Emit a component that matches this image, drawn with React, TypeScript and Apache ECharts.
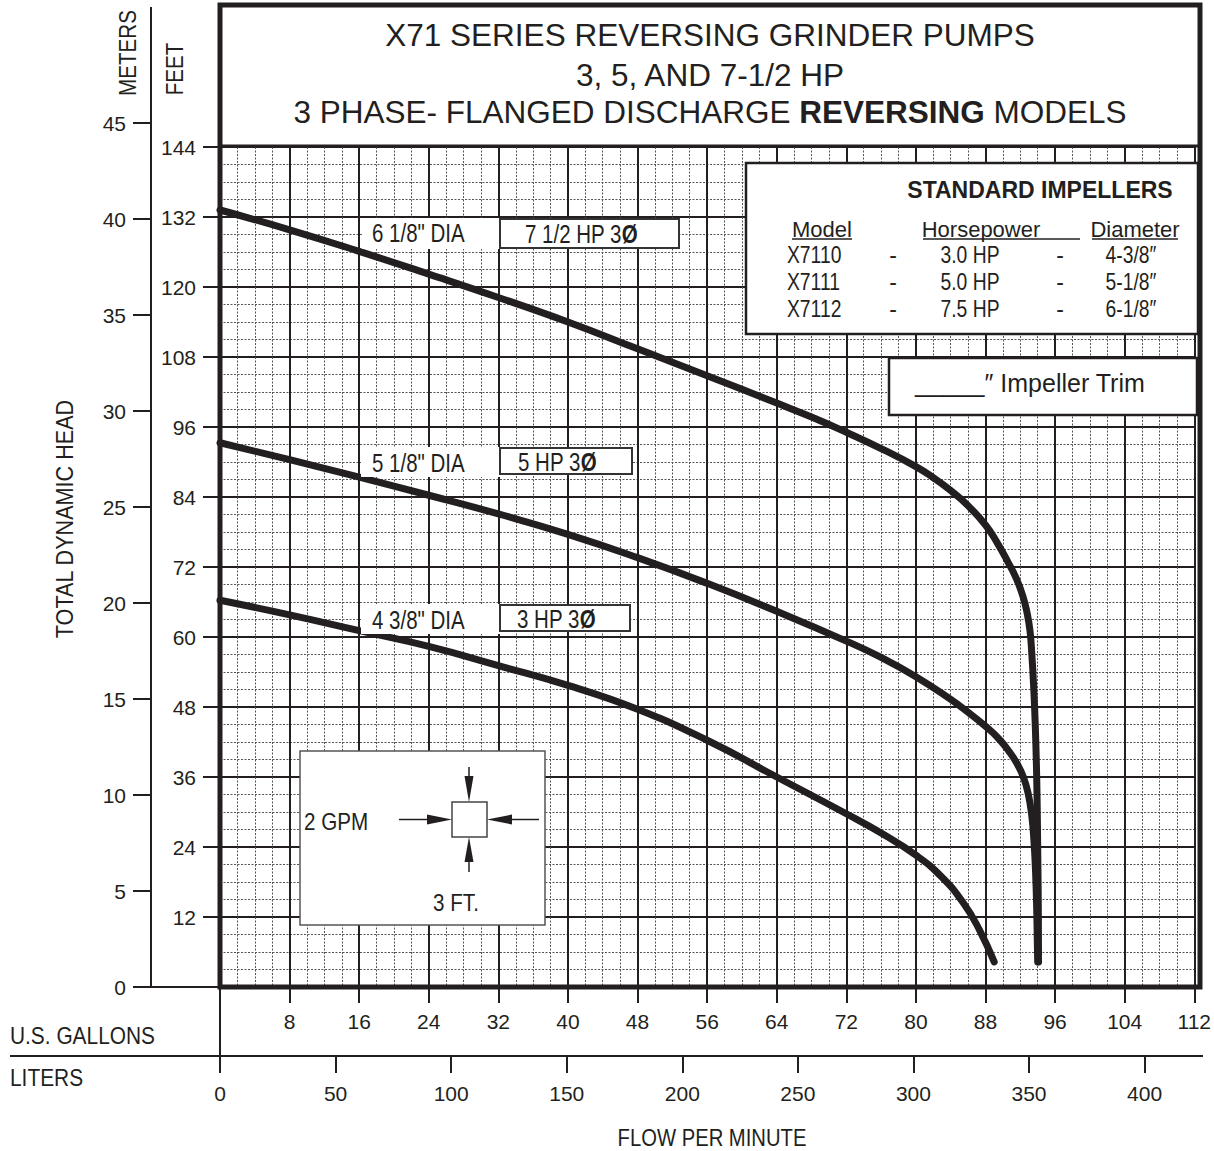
import React, { useEffect, useRef } from "react";
import * as echarts from "echarts";

// ---------- data ----------
const gallonTicks = [0, 8, 16, 24, 32, 40, 48, 56, 64, 72, 80, 88, 96, 104, 112];
const literTicks = [0, 50, 100, 150, 200, 250, 300, 350, 400];
const feetTicks = [0, 12, 24, 36, 48, 60, 72, 84, 96, 108, 120, 132, 144];
const meterTicks = [0, 5, 10, 15, 20, 25, 30, 35, 40, 45];

// [GPM, feet]
const curve75hp: number[][] = [
  [0, 133.2], [8, 129.8], [16, 126.1], [24, 122.2], [32, 118.2], [40, 114.0],
  [48, 109.4], [56, 104.8], [64, 100.1], [68, 97.7], [72, 95.1], [76, 92.3],
  [80, 89.2], [82, 87.3], [84, 85.1], [86, 82.5], [88, 79.2], [89.4, 76.0],
  [90.6, 72.8], [91.55, 70.0], [92.3, 67.0], [92.8, 64.0], [93.12, 61.0],
  [93.33, 57.0], [93.52, 52.0], [93.72, 45.0], [93.9, 35.0], [94.0, 24.0],
  [94.07, 14.0], [94.1, 4.3],
];
const curve5hp: number[][] = [
  [0, 93.3], [8, 90.4], [16, 87.4], [24, 84.3], [32, 81.1], [40, 77.6],
  [48, 73.6], [56, 69.2], [64, 64.4], [72, 59.3], [76, 56.5], [80, 53.2],
  [84, 49.3], [86, 47.1], [88, 44.7], [89.5, 42.6], [90.7, 40.4], [91.7, 38.1],
  [92.4, 35.8], [92.9, 33.2], [93.3, 29.6], [93.55, 25.5], [93.75, 20.0],
  [93.9, 12.5], [94.0, 4.3],
];
const curve3hp: number[][] = [
  [0, 66.3], [8, 63.8], [16, 61.1], [24, 58.4], [32, 55.1], [40, 51.7],
  [48, 47.6], [56, 42.3], [64, 36.0], [72, 29.7], [76, 26.4], [80, 22.6],
  [83, 18.8], [85.5, 14.3], [87.3, 9.8], [89.0, 4.3],
];

const titleLines = [
  "X71 SERIES REVERSING GRINDER PUMPS",
  "3, 5, AND 7-1/2 HP",
];
const tableHeaders = ["Model", "Horsepower", "Diameter"];
const tableModels = ["X7110", "X7111", "X7112"];
const tableHp = ["3.0 HP", "5.0 HP", "7.5 HP"];
const tableDia = ["4-3/8\u2033", "5-1/8\u2033", "6-1/8\u2033"];

const LITERS_PER_GALLON = 3.78541;

// ---------- styling ----------
const INK = "#231f20";
const REG = "'Liberation Sans', Arial, sans-serif";

function txt(text: string, x: number, y: number, size: number, opts: any = {}) {
  return {
    type: "text",
    x,
    y,
    z: 110,
    rotation: opts.rotation || 0,
    scaleX: opts.sx || 1,
    style: {
      text,
      fill: INK,
      fontSize: size,
      fontFamily: REG,
      fontWeight: opts.weight || "normal",
      textAlign: opts.align || "left",
      textVerticalAlign: "middle",
      rich: opts.rich,
    },
  };
}
function line(x1: number, y1: number, x2: number, y2: number, w: number, color = INK) {
  return { type: "line", z: 105, shape: { x1, y1, x2, y2 }, style: { stroke: color, lineWidth: w } };
}
function rect(x: number, y: number, w: number, h: number, stroke: string | null, lw: number, fill = "#fff") {
  return {
    type: "rect",
    z: 100,
    shape: { x, y, width: w, height: h },
    style: { fill, stroke: stroke || undefined, lineWidth: stroke ? lw : 0 },
  };
}
function tri(points: number[][]) {
  return { type: "polygon", z: 106, shape: { points }, style: { fill: INK } };
}

export default function App() {
  const ref = useRef<HTMLDivElement>(null);

  useEffect(() => {
    if (!ref.current) return;
    const chart = echarts.init(ref.current, undefined, { renderer: "svg" });

    const phiRich = (size: number) => ({
      b: { fontSize: size, fontFamily: REG, fontWeight: "bold", fill: INK },
    });

    const curveSeries = (name: string, data: number[][]) => ({
      name,
      type: "line",
      xAxisIndex: 0,
      yAxisIndex: 0,
      data,
      smooth: 0.5,
      symbol: "none",
      showSymbol: false,
      z: 20,
      lineStyle: { color: INK, width: 7, cap: "round", join: "round" },
    });

    const labelFont = { color: INK, fontSize: 21, fontFamily: REG };

    const option: any = {
      animation: false,
      backgroundColor: "#fff",
      grid: [
        { left: 220, top: 147, width: 980, height: 840, show: false },
        { left: 151, top: 123, width: 1, height: 864, show: false },
        { left: 220, top: 1000, width: 980, height: 56, show: false },
      ],
      xAxis: [
        {
          gridIndex: 0,
          type: "value",
          min: gallonTicks[0],
          max: gallonTicks[gallonTicks.length - 1],
          interval: 8,
          axisLine: { show: false },
          axisTick: { show: true, length: 16, lineStyle: { color: INK, width: 2 } },
          axisLabel: {
            ...labelFont,
            margin: 24,
            formatter: (v: number) => (v === 0 ? "" : String(v)),
          },
          splitLine: { show: true, lineStyle: { color: INK, width: 2 } },
          minorTick: { show: false, splitNumber: 4 },
          minorSplitLine: { show: true, lineStyle: { color: "#555", width: 1, type: [2, 1.5] } },
        },
        { gridIndex: 1, type: "value", show: false, min: 0, max: 1 },
        {
          gridIndex: 2,
          type: "value",
          position: "bottom",
          min: 0,
          max: gallonTicks[gallonTicks.length - 1] * LITERS_PER_GALLON,
          interval: 50,
          axisLine: { show: true, lineStyle: { color: INK, width: 2 } },
          axisTick: {
            show: true,
            length: 17,
            customValues: literTicks,
            lineStyle: { color: INK, width: 2 },
          },
          axisLabel: { ...labelFont, margin: 27, customValues: literTicks },
          splitLine: { show: false },
        },
      ],
      yAxis: [
        {
          gridIndex: 0,
          type: "value",
          min: feetTicks[0],
          max: feetTicks[feetTicks.length - 1],
          interval: 12,
          axisLine: { show: false },
          axisTick: { show: true, length: 17, lineStyle: { color: INK, width: 2 } },
          axisLabel: {
            ...labelFont,
            margin: 24,
            formatter: (v: number) => (v === 0 ? "" : String(v)),
          },
          splitLine: { show: true, lineStyle: { color: INK, width: 2 } },
          minorTick: { show: false, splitNumber: 4 },
          minorSplitLine: { show: true, lineStyle: { color: "#555", width: 1, type: [2, 1.5] } },
        },
        {
          gridIndex: 1,
          type: "value",
          min: meterTicks[0],
          max: meterTicks[meterTicks.length - 1],
          interval: 5,
          axisLine: { show: true, lineStyle: { color: INK, width: 2 } },
          axisTick: { show: true, length: 18, lineStyle: { color: INK, width: 2 } },
          axisLabel: { ...labelFont, margin: 25 },
          splitLine: { show: false },
        },
        { gridIndex: 2, type: "value", show: false, min: 0, max: 1 },
      ],
      series: [
        curveSeries("6 1/8\" DIA", curve75hp),
        curveSeries("5 1/8\" DIA", curve5hp),
        curveSeries("4 3/8\" DIA", curve3hp),
      ],
      graphic: {
        elements: [
          // frame
          { type: "rect", z: 120, shape: { x: 220, y: 5, width: 980, height: 982 }, style: { fill: "none", stroke: INK, lineWidth: 5 } },
          line(220, 146, 1200, 146, 3),
          // axis extensions
          line(151, 7, 151, 123, 2),
          line(151, 987, 220, 987, 2),
          line(220, 987, 220, 1073, 2),
          line(10, 1056, 220, 1056, 2),
          line(1200, 1056, 1203, 1056, 2),
          // title
          txt(titleLines[0], 710, 35, 31.5, { align: "center" }),
          txt(titleLines[1], 710, 75, 31.5, { align: "center" }),
          txt("3 PHASE- FLANGED DISCHARGE {b|REVERSING} MODELS", 710, 112, 31.5, {
            align: "center",
            rich: { b: { fontSize: 31.5, fontFamily: REG, fontWeight: "bold", fill: INK } },
          }),
          // axis titles
          txt("METERS", 128, 53, 24, { rotation: Math.PI / 2, align: "center", sx: 0.86 }),
          txt("FEET", 175, 69, 24, { rotation: Math.PI / 2, align: "center", sx: 0.86 }),
          txt("TOTAL DYNAMIC HEAD", 65, 519, 24, { rotation: Math.PI / 2, align: "center", sx: 0.9 }),
          txt("U.S. GALLONS", 10, 1036, 24, { sx: 0.87 }),
          txt("LITERS", 10, 1078, 24, { sx: 0.87 }),
          txt("FLOW PER MINUTE", 712, 1138, 23, { align: "center", sx: 0.88 }),
          // standard impellers box
          rect(746, 163, 452, 171, INK, 2.5),
          txt("STANDARD IMPELLERS", 1040, 190, 23, { weight: "bold", align: "center" }),
          txt(tableHeaders[0], 822, 229, 22, { align: "center" }),
          txt(tableHeaders[1], 981, 229, 22, { align: "center" }),
          txt(tableHeaders[2], 1135, 229, 22, { align: "center" }),
          line(792, 239, 852, 239, 1.5),
          line(923, 239, 1080, 239, 1.5),
          line(1092, 239, 1178, 239, 1.5),
          ...tableModels.flatMap((m, i) => {
            const y = 255 + i * 26.8;
            return [
              txt(m, 787, y, 23, { sx: 0.84 }),
              txt("-", 893, y, 23, { align: "center" }),
              txt(tableHp[i], 970, y, 23, { align: "center", sx: 0.84 }),
              txt("-", 1060, y, 23, { align: "center" }),
              txt(tableDia[i], 1131, y, 23, { align: "center", sx: 0.84 }),
            ];
          }),
          // impeller trim box
          rect(889, 358, 308, 57, INK, 2.5),
          txt("_____\u2033 Impeller Trim", 915, 383, 25),
          // curve labels
          rect(362, 218, 138, 31, null, 0),
          txt("6 1/8\" DIA", 372, 233, 25, { sx: 0.82 }),
          rect(500, 219, 179, 29, "#333", 2),
          txt("7 1/2 HP 3{b|\u00d8}", 525, 234, 25, { sx: 0.82, rich: phiRich(25) }),
          rect(361, 447, 139, 30, null, 0),
          txt("5 1/8\" DIA", 372, 463, 25, { sx: 0.82 }),
          rect(500, 448, 132, 26, "#333", 2),
          txt("5 HP 3{b|\u00d8}", 518, 462, 25, { sx: 0.82, rich: phiRich(25) }),
          rect(361, 604, 139, 30, null, 0),
          txt("4 3/8\" DIA", 372, 620, 25, { sx: 0.82 }),
          rect(500, 605, 130, 26, "#333", 2),
          txt("3 HP 3{b|\u00d8}", 517, 619, 25, { sx: 0.82, rich: phiRich(25) }),
          // inset
          rect(300, 751, 245, 174, "#555", 1.5),
          txt("2 GPM", 304, 822, 24, { sx: 0.86 }),
          txt("3 FT.", 433, 903, 24, { sx: 0.86 }),
          { type: "rect", z: 106, shape: { x: 452, y: 802, width: 35, height: 35 }, style: { fill: "#fff", stroke: "#444", lineWidth: 1.5 } },
          line(399, 819.5, 428, 819.5, 1.5),
          tri([[427, 814.5], [452, 819.5], [427, 824.5]]),
          line(512, 819.5, 539, 819.5, 1.5),
          tri([[512, 814.5], [487, 819.5], [512, 824.5]]),
          line(469, 767, 469, 776, 1.5),
          tri([[464.5, 776], [469, 802], [473.5, 776]]),
          line(469, 862, 469, 872, 1.5),
          tri([[464.5, 862], [469, 837], [473.5, 862]]),
        ],
      },
    };

    chart.setOption(option);
    return () => chart.dispose();
  }, []);

  return (
    <div
      ref={ref}
      style={{ position: "absolute", left: 0, top: 0, width: 1214, height: 1151, background: "#fff" }}
    />
  );
}
